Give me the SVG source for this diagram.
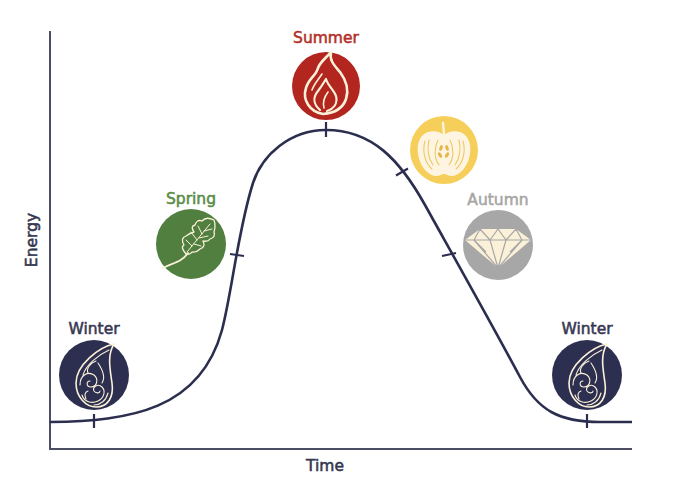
<svg xmlns="http://www.w3.org/2000/svg" xmlns:xlink="http://www.w3.org/1999/xlink" width="680" height="500" viewBox="0 0 680 500">
<style>
.lbl{font-family:"DejaVu Sans","Liberation Sans",sans-serif;font-weight:normal;font-size:15.5px;text-anchor:middle;stroke-width:0.55}
.axis{stroke:#4b4d63;stroke-width:2;fill:none}
.curve{stroke:#2b2e4e;stroke-width:2.6;fill:none;stroke-linecap:butt}
.tick{stroke:#2b2e4e;stroke-width:2.2}
.cream{stroke:#fbf1d8;fill:none;stroke-linecap:round;stroke-linejoin:round}
</style>
<defs>
<g id="drop">
<path class="cream" stroke-width="1.6" d="M20,-31 C5,-28 -18,-10 -18,8 C-18,22 -8,32 2,32 C14,32 20,22 18,8 C16,-6 13,-20 20,-31 Z"/>
<path class="cream" stroke-width="1.1" d="M15,-25 C4,-20 -8,-10 -11,0 M-14,10 C-14,0 -6,-4 0,0 C5,4 3,12 -3,12 C-8,12 -8,6 -4,6"/>
<path class="cream" stroke-width="1.1" d="M2,-14 C-4,-12 -8,-6 -6,-2 M4,-12 C8,-6 12,2 8,8 M-12,20 C-10,27 -2,29 4,26 C10,23 12,16 8,12 C4,8 -2,12 0,16 C2,19 6,18 6,16"/>
<path class="cream" stroke-width="1.1" d="M14,18 C12,26 6,30 0,30 M-8,24 C-10,20 -9,17 -6,16"/>
</g>
</defs>

<g id="axes">
<line class="axis" x1="50" y1="31" x2="50" y2="450"/>
<line class="axis" x1="49" y1="449" x2="632" y2="449"/>
<text class="lbl" x="325" y="470.5" fill="#35374f" stroke="#35374f">Time</text>
<text class="lbl" transform="translate(37,240) rotate(-90)" fill="#35374f" stroke="#35374f">Energy</text>
</g>

<g id="connectors">
<path class="curve" d="M50,422 C130,421 200,410 222,330 C232,292 238,230 253,183 C262,155 290,130 326,130 C372,130 400,160 425,205 C450,250 495,330 520,377 C538,411 560,422 600,422 L632,422"/>
<line class="tick" x1="94" y1="414" x2="94" y2="428"/>
<line class="tick" x1="230" y1="254" x2="244" y2="256"/>
<line class="tick" x1="326" y1="122" x2="326" y2="137"/>
<line class="tick" x1="396" y1="175.5" x2="408" y2="168.5"/>
<line class="tick" x1="442" y1="256" x2="456" y2="253"/>
<line class="tick" x1="587" y1="414" x2="587" y2="428"/>
</g>

<g id="winter-start">
<text class="lbl" x="94" y="334" fill="#363853" stroke="#363853">Winter</text>
<circle cx="94" cy="375" r="35" fill="#2d2f51"/>
<use xlink:href="#drop" transform="translate(94,375)"/>
</g>

<g id="spring">
<text class="lbl" x="191" y="204" fill="#5a8b48" stroke="#5a8b48">Spring</text>
<circle cx="191" cy="244" r="35" fill="#507f3f"/>
<path class="cream" stroke-width="1.8" d="M163,268 C172,263 182,262 188,253"/>
<path class="cream" stroke-width="1.3" d="M186,254 Q180,247 184,245 Q180,238 186,236 Q190,233 194,232 Q190,226 195,225 Q197,219 202,221 Q206,216 214,220 Q216,226 214,232 Q216,237 210,239 Q208,242 203,241 Q206,247 200,249 Q196,253 192,252 Q190,255 186,254 Z"/>
<path class="cream" stroke-width="1" d="M187,252 L210,224 M192,246 L186,240 M197,240 L191,232 M202,234 L198,226 M194,244 L201,246 M199,238 L208,236 M204,231 L212,229"/>
</g>

<g id="summer">
<text class="lbl" x="326" y="43" fill="#b3302a" stroke="#b3302a">Summer</text>
<circle cx="326" cy="86" r="34" fill="#b2261f"/>
<path class="cream" stroke-width="2.6" d="M323,114 C310,112 302,100 306,88 C309,78 316,76 318,68 C320,62 326,58 331,52 C329,61 335,66 340,72 C346,80 349,90 346,99 C343,108 335,113 323,114 Z"/>
<path class="cream" stroke-width="2.2" d="M320,110 C313,104 313,97 318,91 C321,87 323,84 326,79 C328,86 334,90 336,96 C338,104 333,109 327,111"/>
<path class="cream" stroke-width="1.6" d="M324,108 C322,101 325,96 328,92 M312,90 C314,84 318,80 322,74"/>
</g>

<g id="apple">
<circle cx="444" cy="150" r="34" fill="#f6cf5b"/>
<path fill="#fdf5e1" d="M444,135 C436,128 420,130 418,145 C416,160 425,175 436,176 C440,176 442,174 444,174 C446,174 448,176 452,176 C463,175 472,160 470,145 C468,130 452,128 444,135 Z"/>
<path stroke="#fdf5e1" stroke-width="2.4" stroke-linecap="round" d="M444,134 L443,123"/>
<path fill="none" stroke="#f0c964" stroke-width="1.1" stroke-linecap="round" d="M425,141 C422,152 425,163 432,169 M429,140 C427,148 428,158 433,165 M463,141 C466,152 463,163 456,169 M459,140 C461,148 460,158 455,165 M438,140 C434,148 434,158 439,165 M450,140 C454,148 454,158 449,165"/>
<g fill="#e5b54a">
<ellipse cx="441" cy="148" rx="1.6" ry="3" transform="rotate(20 441 148)"/>
<ellipse cx="447" cy="148" rx="1.6" ry="3" transform="rotate(-20 447 148)"/>
<ellipse cx="440" cy="155" rx="1.6" ry="3" transform="rotate(-30 440 155)"/>
<ellipse cx="447" cy="155" rx="1.6" ry="3" transform="rotate(30 447 155)"/>
</g>
</g>

<g id="autumn">
<text class="lbl" x="498" y="205" fill="#a6a6a6" stroke="#a6a6a6">Autumn</text>
<circle cx="498" cy="245" r="35" fill="#a7a7a7"/>
<path fill="#fbf1d8" d="M480,229 L516,229 L531,240 L498,268 L465,240 Z"/>
<path fill="none" stroke="#a7a7a7" stroke-width="1.2" stroke-linejoin="round" d="M465,240 L531,240 M480,229 L474,240 L498,268 M480,229 L490,240 L498,268 M498,229 L490,240 M498,229 L506,240 L498,268 M516,229 L506,240 M516,229 L522,240 L498,268 M474,240 L486,252 M522,240 L510,252"/>
</g>

<g id="winter-end">
<text class="lbl" x="587" y="334" fill="#363853" stroke="#363853">Winter</text>
<circle cx="587" cy="375" r="35" fill="#2d2f51"/>
<use xlink:href="#drop" transform="translate(587,375)"/>
</g>
</svg>
